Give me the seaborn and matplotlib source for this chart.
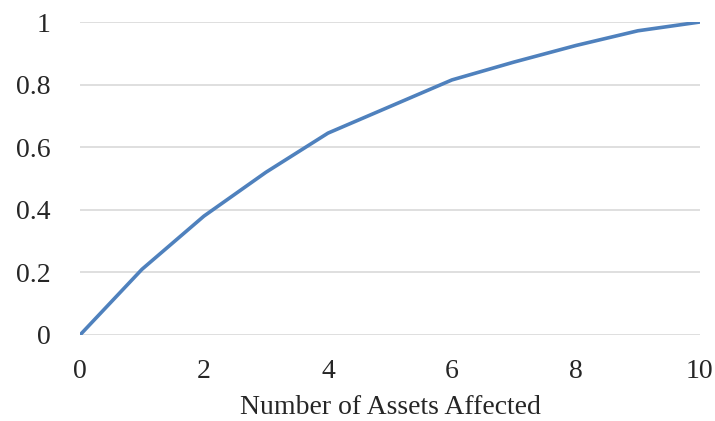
import matplotlib

matplotlib.use("Agg")
import matplotlib.pyplot as plt
import pandas as pd
import seaborn as sns

# Values
assets_affected = [0, 1, 2, 3, 4, 5, 6, 7, 8, 9, 10]
probability = [0, 0.21, 0.38, 0.52, 0.645, 0.73, 0.815, 0.872, 0.925, 0.972, 1.0]
x_ticks = [0, 2, 4, 6, 8, 10]
y_ticks = [0, 0.2, 0.4, 0.6, 0.8, 1.0]
y_tick_labels = ["0", "0.2", "0.4", "0.6", "0.8", "1"]

LINE_COLOR = "#4F81BD"
GRID_COLOR = "#D9D9D9"
FONTSIZE = 20

sns.set_style("white")
plt.rcParams["font.family"] = ["Liberation Serif", "DejaVu Serif"]

df = pd.DataFrame({"Assets": assets_affected, "Probability": probability})

fig = plt.figure(figsize=(7.15, 4.21), dpi=100)
ax = fig.add_axes([0.1119, 0.2043, 0.867, 0.7434])

sns.lineplot(
    data=df, x="Assets", y="Probability", color=LINE_COLOR, linewidth=2.6, ax=ax
)

ax.set_xlim(0, 10)
ax.set_ylim(0, 1)
ax.set_xticks(x_ticks)
ax.set_xticklabels([str(t) for t in x_ticks], fontsize=FONTSIZE)
ax.set_yticks(y_ticks)
ax.set_yticklabels(y_tick_labels, fontsize=FONTSIZE)
ax.tick_params(axis="both", length=0)
ax.tick_params(axis="x", pad=17)
ax.tick_params(axis="y", pad=21)

ax.yaxis.grid(True, color=GRID_COLOR, linewidth=1.2)
ax.xaxis.grid(False)
ax.set_axisbelow(True)
for spine in ax.spines.values():
    spine.set_visible(False)

ax.set_xlabel("Number of Assets Affected", fontsize=FONTSIZE, labelpad=8)
ax.set_ylabel("")

fig.savefig("out.png", dpi=100)
